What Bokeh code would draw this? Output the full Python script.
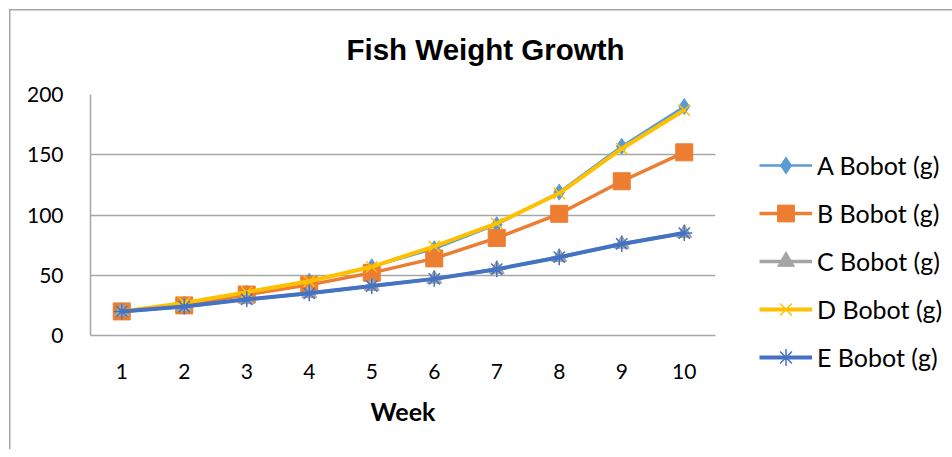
from bokeh.plotting import figure
from bokeh.models import Legend, LegendItem, FixedTicker, Range1d
from bokeh.embed import file_html
from bokeh.resources import INLINE

weeks = [1, 2, 3, 4, 5, 6, 7, 8, 9, 10]
series_names = ["A Bobot (g)", "B Bobot (g)", "C Bobot (g)", "D Bobot (g)", "E Bobot (g)"]
a_vals = [20, 26, 35, 45, 57, 72, 92, 119, 157, 190]
b_vals = [20, 25, 34, 42, 52, 64, 81, 101, 128, 152]
c_vals = [20, 24, 30, 35, 41, 47, 55, 65, 76, 85]
d_vals = [20, 27, 36, 45, 57, 74, 93, 118, 155, 187]
e_vals = [20, 24, 30, 35, 41, 47, 55, 65, 76, 85]
y_ticks = [0, 50, 100, 150, 200]

colors = ["#5B9BD5", "#ED7D31", "#A5A5A5", "#FFC000", "#4472C4"]
markers = ["diamond", "square", "triangle", "x", "asterisk"]
msizes = [16, 17, 15, 16, 16]
lwidths = [2.5, 3.5, 3.5, 4, 4]
values = [a_vals, b_vals, c_vals, d_vals, e_vals]

FONT = "Lato"
W, H = 944, 449
FL, FW, FT, FH = 90, 625, 94, 241

p = figure(frame_width=FW, frame_height=FH, output_backend="svg", toolbar_location=None,
           x_range=Range1d(0.5, 10.5), y_range=Range1d(0, 200),
           min_border_left=FL, min_border_right=W - FL - FW,
           min_border_top=FT, min_border_bottom=H - FT - FH,
           title="Fish Weight Growth")
p.border_fill_color = None
p.background_fill_color = "white"
p.outline_line_color = None
p.styles = {"box-shadow": "inset 9px 9px 0 0 #FFFFFF, inset 10.5px 10.5px 0 0 #A6A6A6",
            "background-color": "#FFFFFF"}

p.title.text_font = "Liberation Sans"
p.title.text_font_style = "bold"
p.title.text_font_size = "29.5px"
p.title.text_color = "#000000"
p.title.align = "left"
p.title.offset = 256
p.title.standoff = 56
p.title.vertical_align = "middle"

# axes
p.xaxis.ticker = FixedTicker(ticks=weeks)
p.yaxis.ticker = FixedTicker(ticks=y_ticks)
for ax in (p.xaxis, p.yaxis):
    ax.major_tick_line_color = None
    ax.minor_tick_line_color = None
    ax.axis_line_color = "#A6A6A6"
    ax.axis_line_width = 1.5
    ax.major_label_text_font = FONT
    ax.major_label_text_font_size = "21px"
    ax.major_label_text_color = "#000000"
p.yaxis.major_label_standoff = 21
p.xaxis.major_label_standoff = 22
p.xaxis.axis_label = "Week"
p.xaxis.axis_label_text_font = FONT
p.xaxis.axis_label_text_font_style = "bold"
p.xaxis.axis_label_text_font_size = "25px"
p.xaxis.axis_label_text_color = "#000000"
p.xaxis.axis_label_standoff = 14
p.xgrid.grid_line_color = None
p.ygrid.grid_line_color = "#A6A6A6"
p.ygrid.grid_line_width = 1.5

items = []
for name, vals, c, m, ms, lw in zip(series_names, values, colors, markers, msizes, lwidths):
    r1 = p.line(weeks, vals, line_color=c, line_width=lw)
    if m in ("x", "asterisk"):
        r2 = p.scatter(weeks, vals, marker=m, size=ms, line_color=c, line_width=1.5)
    else:
        r2 = p.scatter(weeks, vals, marker=m, size=ms, fill_color=c, line_color=c)
    items.append(LegendItem(label=name, renderers=[r1, r2]))

legend = Legend(items=items, location=(44, -43), padding=0, margin=0,
                border_line_color=None, background_fill_alpha=0,
                glyph_width=53, glyph_height=42, label_height=20, spacing=6,
                label_standoff=5, label_text_font=FONT, label_text_font_size="25px",
                label_text_color="#000000")
p.add_layout(legend, "right")

open("out.html", "w").write(file_html(p, INLINE))
